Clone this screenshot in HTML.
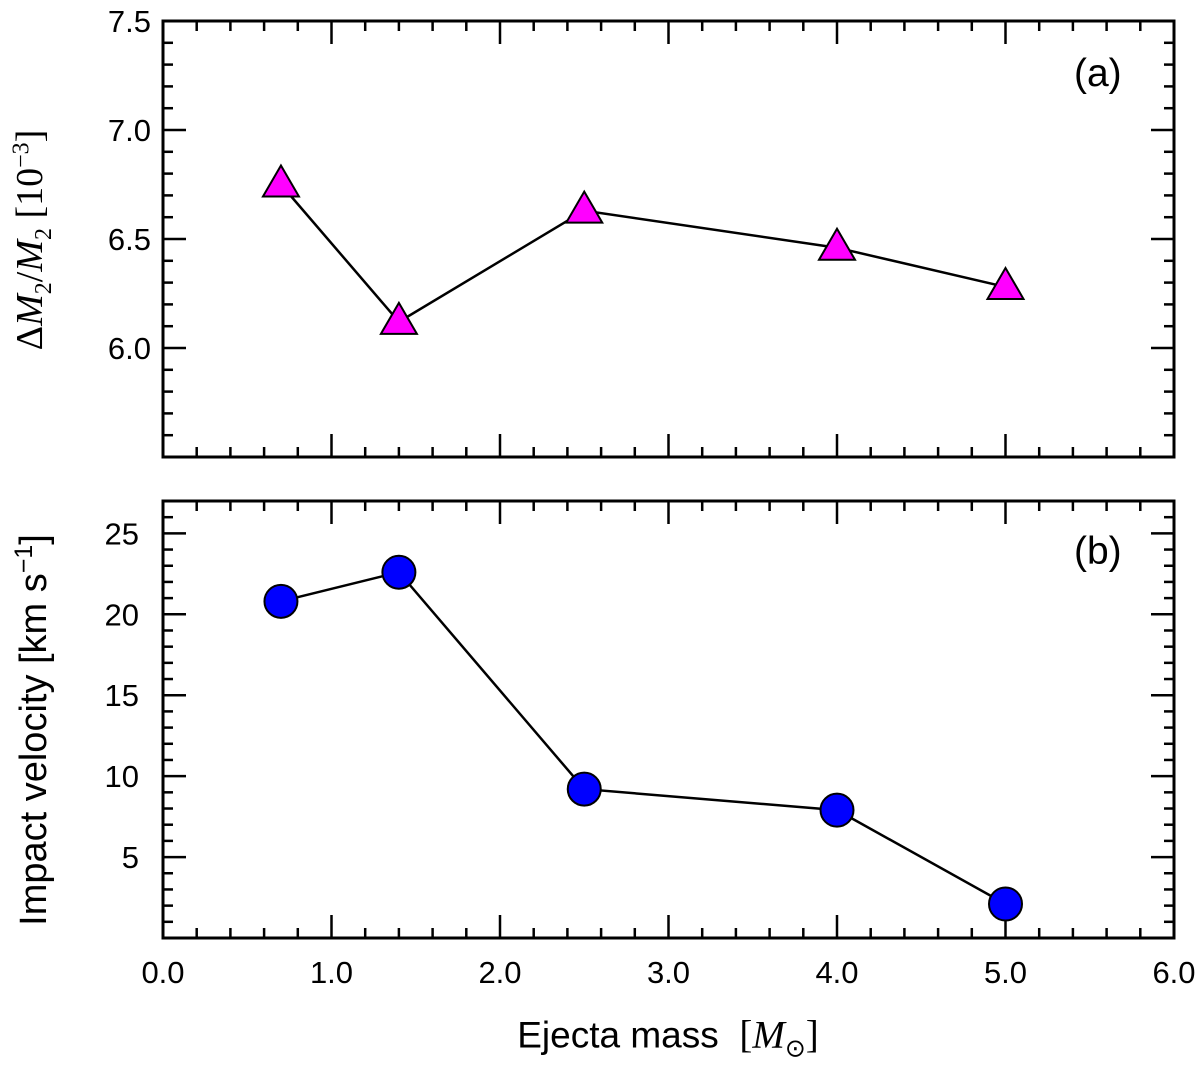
<!DOCTYPE html>
<html><head><meta charset="utf-8"><style>
body{margin:0;background:#fff}
svg{display:block;font-family:"Liberation Sans",sans-serif}
</style></head><body>
<svg id="c" width="1200" height="1066" xmlns="http://www.w3.org/2000/svg"></svg>
<script>
const xs=[0.7,1.4,2.5,4.0,5.0];
const massRatio=[6.75,6.12,6.63,6.46,6.28];
const velocity=[20.8,22.6,9.2,7.9,2.1];
const xTicks=["0.0","1.0","2.0","3.0","4.0","5.0","6.0"];
const yTicksA=["6.0","6.5","7.0","7.5"];
const yTicksB=["5","10","15","20","25"];
const NS="http://www.w3.org/2000/svg";
const svg=document.getElementById('c');
function el(t,a,p){const e=document.createElementNS(NS,t);for(const k in a)e.setAttribute(k,a[k]);(p||svg).appendChild(e);return e;}
const L=163,R=1174;
const X=v=>L+(v-0)/6*(R-L);
const A={top:21,bot:457,min:5.5,max:7.5};
const B={top:501,bot:938,min:0,max:27};
const YA=v=>A.bot-(v-A.min)/(A.max-A.min)*(A.bot-A.top);
const YB=v=>B.bot-(v-B.min)/(B.max-B.min)*(B.bot-B.top);
function frame(P,Y,minStep,majStep,name){
  const g=el('g',{});
  
  
  el('rect',{x:L,y:P.top,width:R-L,height:P.bot-P.top,fill:'none',stroke:'#000','stroke-width':3},g);
  for(let i=0;i<=30;i++){const v=i*0.2,x=X(v),maj=i%5==0,len=maj?23:10;
    el('line',{x1:x,x2:x,y1:P.bot,y2:P.bot-len,stroke:'#000','stroke-width':2.5},g);
    el('line',{x1:x,x2:x,y1:P.top,y2:P.top+len,stroke:'#000','stroke-width':2.5},g);}
  const n=Math.round((P.max-P.min)/minStep);
  for(let i=0;i<=n;i++){const v=P.min+i*minStep,y=Y(v);
    const r=v/majStep,maj=Math.abs(r-Math.round(r))<1e-6,len=maj?23:10;
    el('line',{x1:L,x2:L+len,y1:y,y2:y,stroke:'#000','stroke-width':2.5},g);
    el('line',{x1:R,x2:R-len,y1:y,y2:y,stroke:'#000','stroke-width':2.5},g);}
}
frame(A,YA,0.1,0.5,'panel-a');
frame(B,YB,1,5,'panel-b');
yTicksA.forEach(t=>{const e=el('text',{x:L-12,y:YA(+t)+11,'text-anchor':'end','font-size':'31px'},svg);e.textContent=t;

});
yTicksB.forEach(t=>{const e=el('text',{x:L-24,y:YB(+t)+11,'text-anchor':'end','font-size':'31px'},svg);e.textContent=t;

});
xTicks.forEach(t=>{const e=el('text',{x:X(+t),y:983,'text-anchor':'middle','font-size':'31px'},svg);e.textContent=t;

});
el('polyline',{points:xs.map((v,i)=>X(v)+','+YA(massRatio[i])).join(' '),fill:'none',stroke:'#000','stroke-width':2.5});
el('polyline',{points:xs.map((v,i)=>X(v)+','+YB(velocity[i])).join(' '),fill:'none',stroke:'#000','stroke-width':2.5});
xs.forEach((v,i)=>{const x=X(v),y=YA(massRatio[i]);
  const t=el('polygon',{points:`${x},${y-19} ${x-18},${y+12} ${x+18},${y+12}`,fill:'#ff00ff',stroke:'#000','stroke-width':2});
  
  
  const c=el('circle',{cx:x,cy:YB(velocity[i]),r:16.5,fill:'#0000ff',stroke:'#000','stroke-width':2});
  
  
});
</script>
<div style="position:absolute;left:0;top:0;width:1200px;height:1066px;pointer-events:none">
<div style="position:absolute;left:1074px;top:52px;font:39px 'Liberation Sans',sans-serif">(a)</div>
<div style="position:absolute;left:1074px;top:530px;font:39px 'Liberation Sans',sans-serif">(b)</div>
<div style="position:absolute;left:33px;top:240px;transform:translate(-50%,-50%) rotate(-90deg);white-space:nowrap;font:38px 'Liberation Serif',serif;color:#000">Δ<i>M</i><sub style="font-size:24px">2</sub>/<i>M</i><sub style="font-size:24px">2</sub> [10<sup style="font-size:24px">−3</sup>]</div>
<div style="position:absolute;left:33px;top:730px;transform:translate(-50%,-50%) rotate(-90deg);white-space:nowrap;font:38px 'Liberation Sans',sans-serif;color:#000">Impact velocity [km s<sup style="font-size:25px">−1</sup>]</div>
<div style="position:absolute;left:668px;top:1038px;transform:translate(-50%,-50%);white-space:nowrap;font:37px 'Liberation Sans',sans-serif;color:#000">Ejecta mass &nbsp;<span style="font-family:'Liberation Serif',serif;font-size:39px">[<i>M</i><sub style="font-size:25px">⊙</sub>]</span></div>
</div>
</body></html>
